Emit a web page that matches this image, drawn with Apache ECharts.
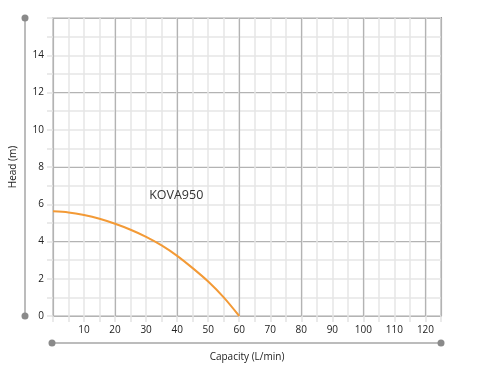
<!DOCTYPE html>
<html><head><meta charset="utf-8">
<script src="https://cdn.jsdelivr.net/npm/echarts@6/dist/echarts.min.js"></script>
<style>html,body{margin:0;padding:0;background:#fff}#c{width:477px;height:376px}</style>
</head><body><div id="c"></div>
<script>
const capacity = [0, 5, 10, 15, 20, 25, 30, 35, 40, 45, 50, 55, 60];
const head = [5.62, 5.56, 5.42, 5.22, 4.95, 4.63, 4.25, 3.79, 3.23, 2.57, 1.85, 1.0, 0];
const seriesName = 'KOVA950';
const labelPos = [39.7, 6.45];
const xTickLabels = [10, 20, 30, 40, 50, 60, 70, 80, 90, 100, 110, 120];
const yTickLabels = [0, 2, 4, 6, 8, 10, 12, 14];

const chart = echarts.init(document.getElementById('c'));
const font = 'Open Sans';
const L = 52, T = 18, R = 441, B = 316;
chart.setOption({
  animation: false,
  textStyle: {fontFamily: font},
  grid: {left: L, right: 477 - R, top: T, bottom: 376 - B, show: true, borderColor: '#9a9a9a', borderWidth: 2, backgroundColor: 'transparent'},
  xAxis: [{
    type: 'value', min: 0, max: 125, interval: 5,
    name: 'Capacity (L/min)', nameLocation: 'middle', nameGap: 36,
    nameTextStyle: {color: '#222', fontSize: 10, fontFamily: font},
    axisLine: {show: false},
    axisTick: {show: true, length: 6, lineStyle: {color: '#e3e3e3', width: 1.5}},
    axisLabel: {color: '#222', fontSize: 10, margin: 9, fontFamily: font,
      formatter: v => xTickLabels.indexOf(v) >= 0 ? String(v) : ''},
    splitLine: {show: true, lineStyle: {color: '#e6e6e6', width: 1.5}}
  }, {
    type: 'value', min: 0, max: 125, interval: 20, position: 'bottom',
    axisLine: {show: false}, axisTick: {show: false}, axisLabel: {show: false},
    splitLine: {show: true, lineStyle: {color: '#b3b3b3', width: 1.2}}
  }],
  yAxis: [{
    type: 'value', min: 0, max: 16, interval: 1,
    name: 'Head (m)', nameLocation: 'middle', nameGap: 35,
    nameTextStyle: {color: '#222', fontSize: 10, fontFamily: font},
    axisLine: {show: false},
    axisTick: {show: true, length: 6, lineStyle: {color: '#e3e3e3', width: 1.5}},
    axisLabel: {color: '#222', fontSize: 10, margin: 9, fontFamily: font,
      formatter: v => yTickLabels.indexOf(v) >= 0 ? String(v) : ''},
    splitLine: {show: true, lineStyle: {color: '#e6e6e6', width: 1.5}}
  }, {
    type: 'value', min: 0, max: 16, interval: 4, position: 'left',
    axisLine: {show: false}, axisTick: {show: false}, axisLabel: {show: false},
    splitLine: {show: true, lineStyle: {color: '#b3b3b3', width: 1.2}}
  }],
  series: [{
    type: 'line', name: seriesName, smooth: 0.3, symbol: 'none',
    data: capacity.map((c, i) => [c, head[i]]),
    lineStyle: {color: '#f39a36', width: 2},
    markPoint: {
      symbol: 'rect', symbolSize: 1, itemStyle: {color: 'transparent'},
      label: {show: true, formatter: seriesName, color: '#333', fontSize: 12.5, fontFamily: font, position: 'inside'},
      data: [{coord: labelPos}]
    }
  }],
  graphic: [
    {type: 'line', shape: {x1: 25, y1: T, x2: 25, y2: B}, style: {stroke: '#bcbcbc', lineWidth: 2}, z: 1},
    {type: 'circle', shape: {cx: 25, cy: T, r: 3.5}, style: {fill: '#8a8a8a'}, z: 2},
    {type: 'circle', shape: {cx: 25, cy: B, r: 3.5}, style: {fill: '#8a8a8a'}, z: 2},
    {type: 'line', shape: {x1: L, y1: 343, x2: R, y2: 343}, style: {stroke: '#bcbcbc', lineWidth: 2}, z: 1},
    {type: 'circle', shape: {cx: L, cy: 343, r: 3.5}, style: {fill: '#8a8a8a'}, z: 2},
    {type: 'circle', shape: {cx: R, cy: 343, r: 3.5}, style: {fill: '#8a8a8a'}, z: 2}
  ]
});
</script></body></html>
